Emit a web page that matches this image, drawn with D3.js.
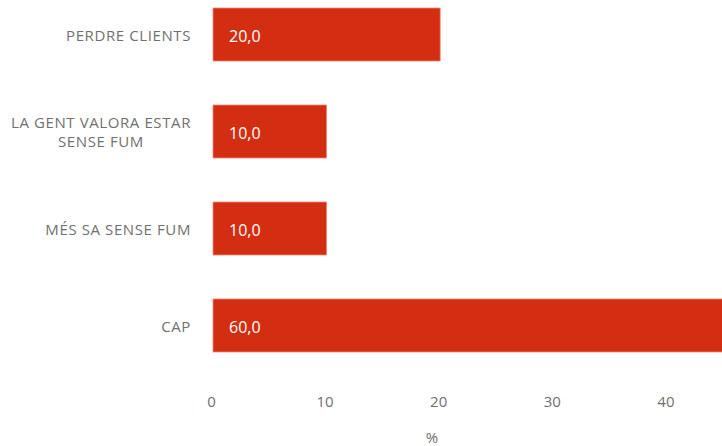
<!DOCTYPE html>
<html><head><meta charset="utf-8">
<script src="https://cdn.jsdelivr.net/npm/d3@7"></script>
<style>body{margin:0;background:#fff;overflow:hidden}svg{display:block}</style>
</head><body>
<script>
const categories = [["PERDRE CLIENTS"], ["LA GENT VALORA ESTAR", "SENSE FUM"], ["MÉS SA SENSE FUM"], ["CAP"]];
const values = [20, 10, 10, 60];
const valueLabels = ["20,0", "10,0", "10,0", "60,0"];
const tickValues = [0, 10, 20, 30, 40];
const axisTitle = "%";

const W = 722, H = 446;
const svg = d3.select("body").append("svg").attr("width", W).attr("height", H);
const font = "'Open Sans', sans-serif";
const x = d3.scaleLinear().domain([0, 60]).range([213, 213 + 60 * 11.36]);
const y = d3.scaleBand().domain(d3.range(values.length)).range([8, 352]).paddingInner(0.4536).paddingOuter(0);

svg.selectAll("rect.bar").data(values).join("rect")
  .attr("x", x(0)).attr("y", (d, i) => y(i))
  .attr("width", d => x(d) - x(0)).attr("height", y.bandwidth())
  .attr("fill", "#d42e12").attr("stroke", "#f08a78").attr("stroke-width", 0.8);

svg.selectAll("text.val").data(valueLabels).join("text")
  .attr("x", x(0) + 16).attr("y", (d, i) => y(i) + y.bandwidth() / 2)
  .attr("dy", "0.45em").attr("fill", "#fff").attr("font-family", font).attr("font-size", 16)
  .text(d => d);

const labelRight = 191;
categories.forEach((lines, i) => {
  const g = svg.append("g");
  const cy = y(i) + y.bandwidth() / 2 + 1;
  const lh = 19;
  const ts = lines.map((l, j) => g.append("text")
    .attr("y", cy + (j - (lines.length - 1) / 2) * lh).attr("dy", "0.36em")
    .attr("fill", "#707070").attr("font-family", font).attr("font-size", 15)
    .attr("letter-spacing", 0.6)
    .attr("text-anchor", "middle").text(l));
  const maxW = d3.max(ts, t => t.node().getComputedTextLength());
  ts.forEach(t => t.attr("x", labelRight - maxW / 2));
});

const axis = d3.axisBottom(x).tickValues(tickValues).tickSize(0).tickPadding(0).tickFormat(d3.format("d"));
const ga = svg.append("g").attr("transform", "translate(-2,396)").call(axis);
ga.select(".domain").remove();
ga.selectAll("text").attr("fill", "#707070").attr("font-family", font).attr("font-size", 15);

svg.append("text").attr("x", 432).attr("y", 443).attr("text-anchor", "middle")
  .attr("fill", "#707070").attr("font-family", font).attr("font-size", 15).text(axisTitle);
</script>
</body></html>
